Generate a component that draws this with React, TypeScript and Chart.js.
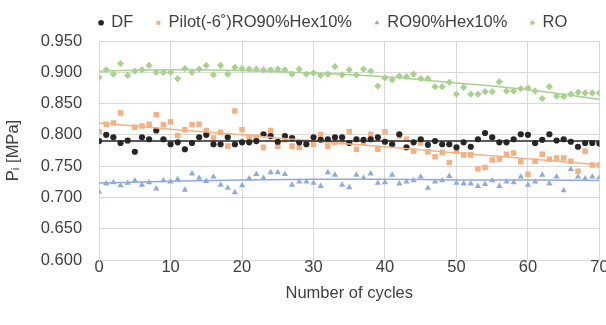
import React, { useEffect, useRef } from 'react';
import { Chart, registerables } from 'chart.js';

Chart.register(...registerables);

// ---- data ----
const cycles = [
  0, 1, 2, 3, 4, 5, 6, 7, 8, 9, 10, 11, 12, 13, 14, 15, 16, 17, 18, 19, 20,
  21, 22, 23, 24, 25, 26, 27, 28, 29, 30, 31, 32, 33, 34, 35, 36, 37, 38, 39, 40,
  41, 42, 43, 44, 45, 46, 47, 48, 49, 50, 51, 52, 53, 54, 55, 56, 57, 58, 59, 60,
  61, 62, 63, 64, 65, 66, 67, 68, 69, 70,
];

const dfValues = [
  0.790, 0.800, 0.796, 0.787, 0.791, 0.773, 0.796, 0.793, 0.807, 0.793, 0.785,
  0.788, 0.777, 0.787, 0.796, 0.800, 0.785, 0.785, 0.796, 0.785, 0.788,
  0.788, 0.790, 0.801, 0.798, 0.789, 0.798, 0.795, 0.788, 0.785, 0.796,
  0.792, 0.793, 0.796, 0.796, 0.787, 0.793, 0.792, 0.793, 0.796, 0.789,
  0.785, 0.801, 0.780, 0.788, 0.793, 0.784, 0.790, 0.785, 0.785, 0.780,
  0.788, 0.781, 0.793, 0.803, 0.796, 0.788, 0.788, 0.793, 0.801, 0.800,
  0.787, 0.792, 0.801, 0.791, 0.793, 0.789, 0.781, 0.787, 0.787, 0.786,
];

const pilotValues = [
  0.805, 0.817, 0.819, 0.835, 0.791, 0.812, 0.814, 0.817, 0.832, 0.816, 0.821,
  0.799, 0.808, 0.816, 0.817, 0.807, 0.795, 0.804, 0.782, 0.838, 0.808,
  0.796, 0.796, 0.780, 0.807, 0.782, 0.792, 0.782, 0.780, 0.788, 0.785,
  0.800, 0.782, 0.788, 0.789, 0.805, 0.777, 0.788, 0.801, 0.777, 0.805,
  0.786, 0.798, 0.793, 0.774, 0.787, 0.773, 0.765, 0.772, 0.756, 0.774,
  0.768, 0.768, 0.746, 0.748, 0.760, 0.761, 0.769, 0.771, 0.757, 0.737,
  0.758, 0.769, 0.761, 0.763, 0.763, 0.758, 0.742, 0.774, 0.752, 0.752,
];

const roHexValues = [
  0.709, 0.722, 0.724, 0.719, 0.723, 0.727, 0.720, 0.724, 0.714, 0.727, 0.725,
  0.729, 0.712, 0.738, 0.731, 0.726, 0.733, 0.720, 0.715, 0.708, 0.719,
  0.730, 0.737, 0.731, 0.740, 0.740, 0.737, 0.720, 0.725, 0.725, 0.723,
  0.718, 0.740, 0.736, 0.720, 0.716, 0.736, 0.731, 0.738, 0.723, 0.724,
  0.736, 0.722, 0.725, 0.727, 0.733, 0.715, 0.725, 0.727, 0.734, 0.723,
  0.722, 0.722, 0.718, 0.721, 0.727, 0.718, 0.725, 0.724, 0.733, 0.720,
  0.725, 0.736, 0.722, 0.733, 0.711, 0.745, 0.733, 0.730, 0.733, 0.732,
];

const roValues = [
  0.892, 0.904, 0.897, 0.914, 0.895, 0.902, 0.904, 0.911, 0.900, 0.900, 0.900,
  0.890, 0.906, 0.900, 0.905, 0.911, 0.896, 0.911, 0.897, 0.908, 0.906,
  0.905, 0.905, 0.904, 0.904, 0.905, 0.904, 0.897, 0.905, 0.897, 0.899,
  0.895, 0.897, 0.909, 0.896, 0.904, 0.896, 0.905, 0.902, 0.878, 0.891,
  0.888, 0.894, 0.893, 0.897, 0.890, 0.890, 0.877, 0.877, 0.884, 0.865,
  0.876, 0.865, 0.865, 0.869, 0.869, 0.885, 0.870, 0.870, 0.874, 0.875,
  0.870, 0.858, 0.877, 0.862, 0.861, 0.865, 0.868, 0.867, 0.867, 0.867,
];

// trend lines, read at every 10 cycles
const trendCycles = [0, 10, 20, 30, 40, 50, 60, 70];
const dfTrend = [0.790, 0.790, 0.790, 0.790, 0.790, 0.790, 0.790, 0.790];
const pilotTrend = [0.819, 0.809, 0.800, 0.790, 0.781, 0.771, 0.762, 0.752];
const roHexTrend = [0.723, 0.726, 0.728, 0.729, 0.729, 0.728, 0.728, 0.727];
const roTrend = [0.902, 0.904, 0.903, 0.899, 0.893, 0.883, 0.872, 0.857];

const seriesLabels = ['DF', 'Pilot(-6˚)RO90%Hex10%', 'RO90%Hex10%', 'RO'];

const C_DF = '#262626';
const C_PILOT = '#F4B183';
const C_HEX = '#8FAADC';
const C_RO = '#A9D18E';
const TEXT = '#404040';
const GRID = '#d9d9d9';
const FONT = 'Liberation Sans';
const FS = 16.5;

function toPoints(xs: number[], ys: number[]) {
  return xs.map((x, i) => ({ x, y: ys[i] }));
}

export default function App() {
  const ref = useRef<HTMLCanvasElement>(null);

  useEffect(() => {
    if (!ref.current) return;
    const legendShift = {
      id: 'legendShift',
      afterLayout(chart: any) {
        const lg = chart.legend;
        if (!lg) return;
        const pad = lg.options.labels.padding;
        const dx = chart.chartArea.left - pad - lg.left;
        lg.left += dx;
        lg.right += dx;
      },
    };

    const scatter = (label: string, ys: number[], color: string, style: string, r: number) => ({
      label,
      data: toPoints(cycles, ys),
      pointStyle: style,
      pointRadius: r,
      backgroundColor: color,
      borderColor: color,
      borderWidth: 0,
      showLine: false,
      order: 2,
    });
    const trend = (ys: number[], color: string) => ({
      label: 'trend',
      type: 'line' as const,
      data: toPoints(trendCycles, ys),
      borderColor: color,
      backgroundColor: color,
      borderWidth: 1.5,
      pointRadius: 0,
      fill: false,
      showLine: true,
      cubicInterpolationMode: 'monotone' as const,
      order: 1,
    });

    const chart = new Chart(ref.current, {
      type: 'scatter',
      data: {
        datasets: [
          scatter(seriesLabels[0], dfValues, C_DF, 'circle', 3.1),
          scatter(seriesLabels[1], pilotValues, C_PILOT, 'rect', 3.9),
          scatter(seriesLabels[2], roHexValues, C_HEX, 'triangle', 3.6),
          scatter(seriesLabels[3], roValues, C_RO, 'rectRot', 3.6),
          trend(dfTrend, C_DF),
          trend(pilotTrend, C_PILOT),
          trend(roHexTrend, C_HEX),
          trend(roTrend, C_RO),
        ] as any,
      },
      options: {
        animation: false,
        responsive: false,
        events: [],
        layout: { padding: { top: -8.5, bottom: 18.1, left: 0, right: 0 } },
        plugins: {
          tooltip: { enabled: false },
          legend: {
            position: 'top',
            align: 'start',
            labels: {
              usePointStyle: true,
              boxWidth: 4,
              boxHeight: 4,
              padding: 23,
              color: TEXT,
              font: { family: FONT, size: FS },
              filter: (item: any) => item.datasetIndex < 4,
            },
          },
        },
        scales: {
          x: {
            type: 'linear',
            min: 0,
            max: 70,
            ticks: {
              stepSize: 10,
              padding: -2.6,
              color: TEXT,
              font: { family: FONT, size: FS },
            },
            grid: { color: GRID, drawTicks: false },
            border: { color: GRID },
            title: {
              display: true,
              text: 'Number of cycles',
              color: TEXT,
              font: { family: FONT, size: FS },
              padding: { top: 8.5, bottom: 4 },
            },
          },
          y: {
            type: 'linear',
            min: 0.6,
            max: 0.95,
            ticks: {
              stepSize: 0.05,
              padding: 17,
              color: TEXT,
              font: { family: FONT, size: FS },
              callback: (v: any) => Number(v).toFixed(3),
            },
            grid: { color: GRID, drawTicks: false },
            border: { color: GRID },
            title: {
              display: true,
              text: 'Pᵢ [MPa]',
              color: TEXT,
              font: { family: FONT, size: FS },
              padding: { top: 4, bottom: 0 },
            },
          },
        },
      },
      plugins: [legendShift],
    });
    return () => chart.destroy();
  }, []);

  return (
    <div style={{ position: 'fixed', left: 0, top: 0, width: 606, height: 325, background: '#fff' }}>
      <canvas ref={ref} width={606} height={325} />
    </div>
  );
}
